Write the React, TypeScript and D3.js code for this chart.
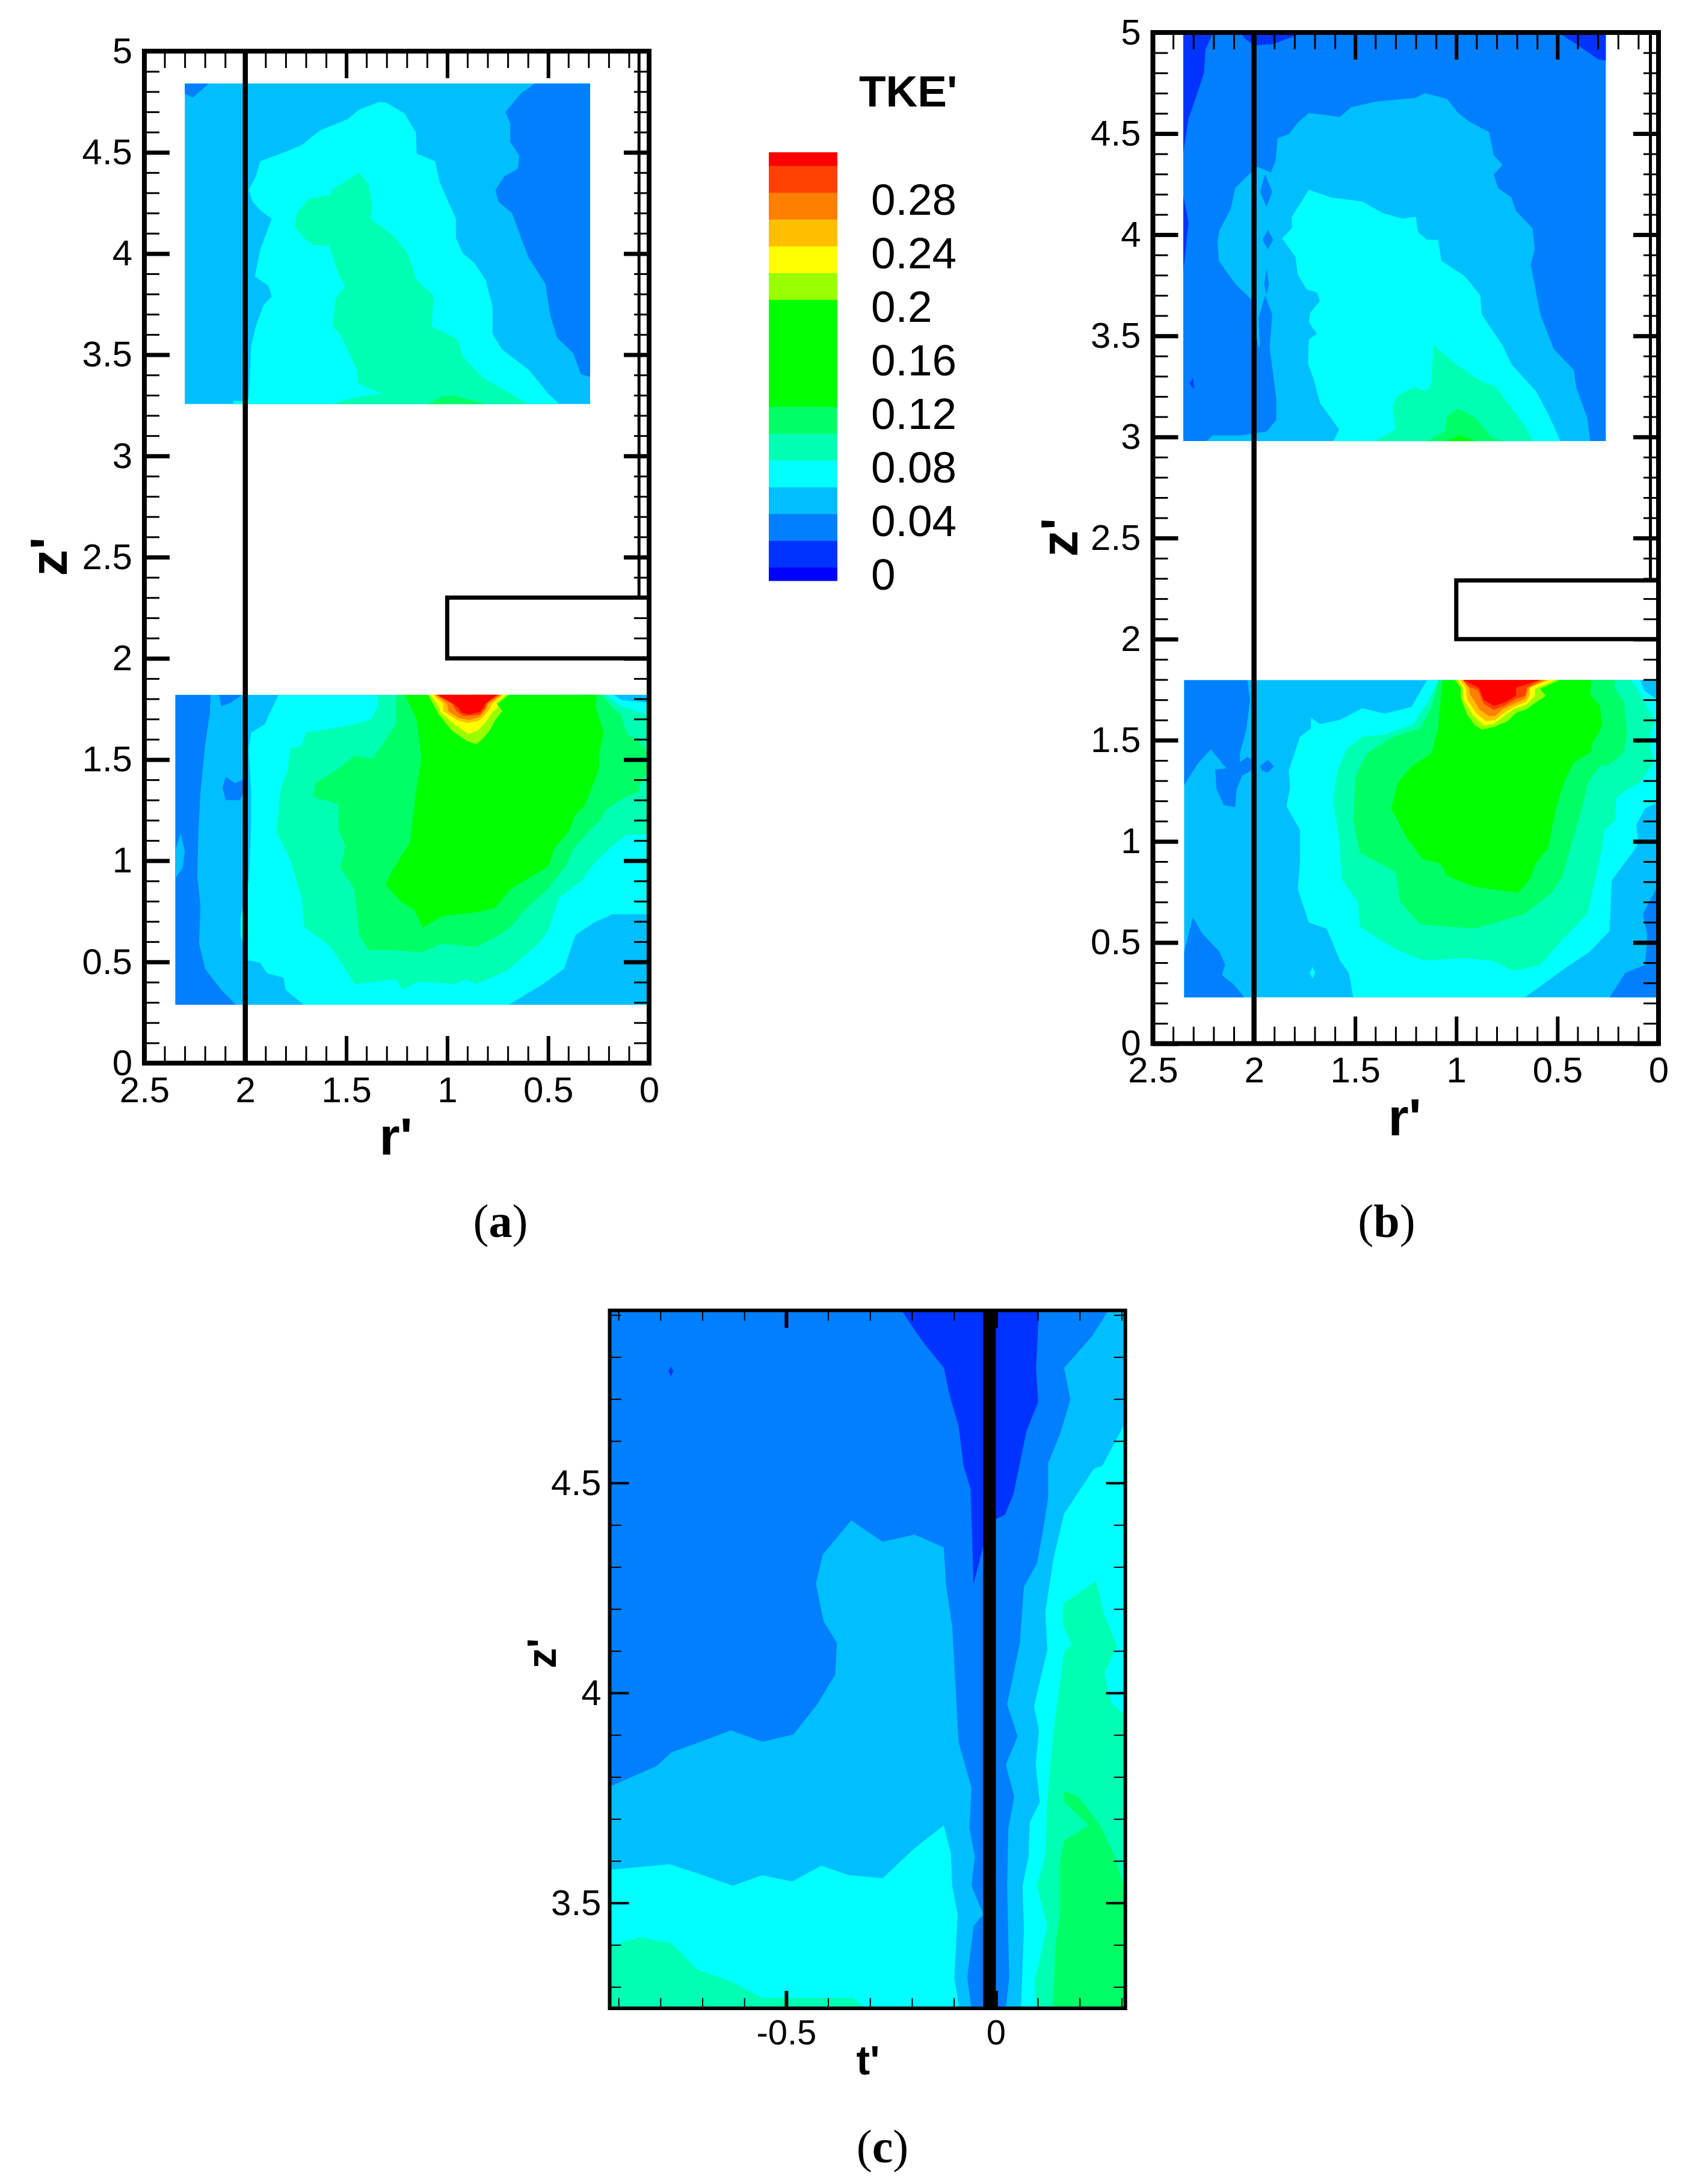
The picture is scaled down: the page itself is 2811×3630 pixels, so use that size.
import React, { useEffect, useRef } from 'react';
import * as d3 from 'd3';

type Pt = [number, number];
type Layer = [number, Pt[]];

// legend: contour band edges and their colours
const bandEdges = [-0.005, 0.005, 0.025, 0.045, 0.065, 0.085, 0.105, 0.125, 0.205, 0.225, 0.245, 0.265, 0.285, 0.305, 0.315];
const bandColors = ['#0000ff', '#0033ff', '#007fff', '#00bfff', '#00ffff', '#00ffb2', '#00ff66', '#00ff00', '#99ff00', '#ffff00', '#ffbf00', '#ff7f00', '#ff4000', '#ff0000'];
const legendTicks = [0, 0.04, 0.08, 0.12, 0.16, 0.2, 0.24, 0.28];

const rMajor = [0, 0.5, 1, 1.5, 2, 2.5];
const zMajor = [0, 0.5, 1, 1.5, 2, 2.5, 3, 3.5, 4, 4.5, 5];
const tMajor = [-0.5, 0];
const zMajorC = [3.5, 4, 4.5];

// (a) upper window, contour outlines as [r', z']
const aTopBlueR: Pt[] = [[.565,4.841],[.638,4.788],[.711,4.699],[.688,4.645],[.688,4.551],[.643,4.484],[.65,4.418],[.718,4.38],[.761,4.314],[.747,4.257],[.679,4.2],[.627,4.058],[.597,3.982],[.513,3.849],[.49,3.698],[.456,3.584],[.376,3.508],[.337,3.404],[.292,3.39],[.292,4.841]];
const aTopBlueL: Pt[] = [[2.3,4.84],[2.18,4.84],[2.26,4.77],[2.3,4.79]];
const aTopCyan: Pt[] = [[2.06,3.256],[2.06,3.272],[2.0,3.27],[1.983,3.285],[1.971,3.546],[1.948,3.641],[1.91,3.745],[1.869,3.789],[1.885,3.84],[1.953,3.887],[1.926,4.02],[1.869,4.172],[1.926,4.213],[1.964,4.257],[1.983,4.314],[1.948,4.38],[1.926,4.456],[1.8,4.503],[1.72,4.536],[1.63,4.608],[1.493,4.664],[1.436,4.712],[1.333,4.75],[1.3,4.744],[1.212,4.693],[1.155,4.598],[1.151,4.494],[1.06,4.456],[1.037,4.352],[.957,4.172],[.957,4.077],[.923,4.001],[.866,3.954],[.809,3.868],[.775,3.736],[.775,3.603],[.729,3.527],[.593,3.423],[.501,3.309],[.444,3.256]];
const aTopTeal: Pt[] = [[1.572,3.256],[1.458,3.29],[1.322,3.309],[1.44,3.356],[1.447,3.423],[1.481,3.499],[1.531,3.603],[1.568,3.641],[1.554,3.773],[1.504,3.84],[1.538,3.897],[1.584,4.039],[1.664,4.043],[1.709,4.077],[1.755,4.134],[1.743,4.2],[1.686,4.27],[1.577,4.289],[1.572,4.314],[1.436,4.399],[1.39,4.342],[1.372,4.247],[1.379,4.172],[1.265,4.086],[1.196,4.001],[1.151,3.868],[1.067,3.792],[1.076,3.641],[.946,3.574],[.923,3.489],[.82,3.385],[.597,3.256]];
const aTopLime: Pt[] = [[1.094,3.256],[1.025,3.296],[.969,3.3],[.866,3.271],[.793,3.256]];

// (a) lower window
const aLowBlue: Pt[] = [[2.347,1.819],[2.172,1.819],[2.176,1.727],[2.199,1.57],[2.222,1.341],[2.233,1.132],[2.238,.924],[2.222,.778],[2.229,.59],[2.199,.465],[2.119,.361],[2.046,.288],[2.347,.288]];
const aLowSpot: Pt[] = [[2.347,1.049],[2.32,1.137],[2.3,1.049],[2.31,.966],[2.347,.913]];
const aLowTopBlue: Pt[] = [[2.131,1.819],[2.119,1.764],[2.074,1.779],[2.017,1.819]];
const aLowBlob: Pt[] = [[2.097,1.414],[2.113,1.362],[2.097,1.299],[2.028,1.299],[1.994,1.362],[2.005,1.404],[2.051,1.383]];
const aLowCyan: Pt[] = [[1.835,1.819],[1.88,1.727],[1.903,1.675],[1.971,1.633],[1.983,1.55],[1.971,1.341],[1.971,1.174],[1.983,.903],[2.024,.715],[2.024,.632],[1.983,.507],[1.926,.496],[1.892,.444],[1.812,.423],[1.8,.361],[1.709,.288],[.695,.288],[.524,.392],[.422,.465],[.365,.632],[.273,.694],[.182,.736],[0,.736],[0,1.819]];
const aLowTopRight: Pt[] = [[.176,1.821],[.136,1.794],[0,1.78],[0,1.821]];
const aLowTeal: Pt[] = [[1.345,1.819],[1.34,1.769],[1.379,1.696],[1.504,1.664],[1.698,1.633],[1.721,1.57],[1.778,1.55],[1.789,1.445],[1.823,1.362],[1.846,1.143],[1.778,1.007],[1.721,.82],[1.709,.674],[1.584,.58],[1.538,.517],[1.459,.392],[1.253,.413],[1.219,.361],[1.151,.402],[.957,.392],[.912,.413],[.855,.392],[.706,.455],[.547,.59],[.501,.653],[.444,.82],[.33,.903],[.285,.972],[.196,1.061],[.116,1.126],[0,1.131],[0,1.72],[.146,1.765],[.21,1.821]];
const aLowMint: Pt[] = [[1.253,1.819],[1.253,1.675],[1.367,1.504],[1.459,1.518],[1.538,1.456],[1.652,1.383],[1.664,1.316],[1.538,1.278],[1.538,1.153],[1.504,1.07],[1.531,.966],[1.459,.861],[1.436,.632],[1.39,.559],[1.276,.559],[1.128,.548],[1.026,.59],[.855,.574],[.763,.621],[.684,.674],[.615,.757],[.501,.861],[.414,.972],[.374,1.061],[.295,1.15],[.235,1.21],[.216,1.25],[.136,1.304],[.047,1.344],[.047,1.378],[0,1.438],[0,1.537],[.057,1.596],[.111,1.626],[.136,1.715],[.196,1.775],[.235,1.821]];
const aLowGreen: Pt[] = [[1.208,1.819],[1.151,1.696],[1.128,1.508],[1.151,1.362],[1.185,1.091],[1.276,.945],[1.304,.882],[1.231,.799],[1.162,.757],[1.121,.669],[1.026,.726],[.843,.747],[.763,.767],[.684,.861],[.499,.972],[.469,1.061],[.394,1.15],[.369,1.22],[.315,1.279],[.285,1.358],[.25,1.448],[.245,1.537],[.225,1.636],[.265,1.765],[.26,1.821]];
const aPeak215: Pt[] = [[1.095,1.821],[1.065,1.765],[1.04,1.72],[.975,1.641],[.901,1.591],[.856,1.575],[.826,1.601],[.787,1.646],[.762,1.695],[.727,1.74],[.752,1.775],[.692,1.821]];
const aPeak235: Pt[] = [[1.085,1.821],[1.042,1.765],[1.03,1.73],[.96,1.671],[.896,1.626],[.851,1.641],[.811,1.68],[.777,1.735],[.747,1.755],[.757,1.78],[.707,1.821]];
const aPeak255: Pt[] = [[1.07,1.821],[1.02,1.775],[1.02,1.74],[.951,1.695],[.901,1.68],[.846,1.69],[.816,1.715],[.787,1.755],[.777,1.775],[.722,1.821]];
const aPeak275: Pt[] = [[1.06,1.821],[1.0,1.775],[.995,1.74],[.941,1.705],[.891,1.695],[.841,1.71],[.811,1.74],[.797,1.775],[.732,1.821]];
const aPeak295: Pt[] = [[1.055,1.821],[.975,1.775],[.955,1.74],[.92,1.715],[.841,1.72],[.811,1.755],[.802,1.78],[.742,1.821]];
const aPeakRed: Pt[] = [[1.05,1.821],[.975,1.78],[.945,1.755],[.926,1.73],[.891,1.723],[.836,1.735],[.807,1.78],[.752,1.821]];

// (b) upper window
const bTopDeepL: Pt[] = [[2.35,5],[2.203,5],[2.24,4.915],[2.247,4.801],[2.291,4.668],[2.324,4.573],[2.35,4.402]];
const bTopDeepM: Pt[] = [[2.35,4.194],[2.324,4.061],[2.35,3.814]];
const bTopDeepC: Pt[] = [[2.07,5],[2.037,4.962],[1.993,4.937],[1.905,4.943],[1.806,4.981],[1.795,5]];
const bTopDeepR: Pt[] = [[.496,5],[.407,4.943],[.297,4.867],[.26,4.861],[.26,5]];
const bTopSpeck: Pt[] = [[2.317,3.264],[2.302,3.292],[2.297,3.235]];
const bTopArch: Pt[] = [[2.236,2.979],[2.203,3.008],[2.059,3.008],[1.938,3.027],[1.89,3.083],[1.89,3.188],[1.923,3.444],[1.978,3.444],[1.993,3.529],[2.015,3.681],[2.093,3.757],[2.174,3.871],[2.181,3.966],[2.17,4.023],[2.115,4.127],[2.093,4.231],[2.037,4.288],[1.982,4.336],[1.916,4.307],[1.894,4.364],[1.883,4.478],[1.828,4.497],[1.784,4.554],[1.729,4.602],[1.575,4.583],[1.52,4.63],[1.399,4.658],[1.2,4.677],[1.156,4.7],[1.046,4.672],[.991,4.602],[.936,4.56],[.837,4.507],[.815,4.393],[.771,4.345],[.815,4.298],[.793,4.231],[.727,4.184],[.705,4.118],[.623,4.032],[.612,3.928],[.632,3.852],[.584,3.605],[.518,3.435],[.419,3.33],[.407,3.245],[.352,3.093],[.337,2.979]];
const bTopLens1: Pt[] = [[1.945,4.298],[1.91,4.213],[1.938,4.137],[1.971,4.213]];
const bTopLens2: Pt[] = [[1.932,4.023],[1.905,3.975],[1.932,3.928],[1.958,3.975]];
const bTopLens3: Pt[] = [[1.938,3.833],[1.927,3.757],[1.938,3.7],[1.949,3.757]];
const bTopLens4: Pt[] = [[1.945,3.7],[1.91,3.605],[1.923,3.444],[1.971,3.444],[1.978,3.586]];
const bTopCyan: Pt[] = [[1.608,2.979],[1.579,3.036],[1.674,3.169],[1.707,3.292],[1.733,3.359],[1.729,3.482],[1.689,3.51],[1.729,3.567],[1.722,3.615],[1.674,3.672],[1.689,3.715],[1.74,3.729],[1.784,3.805],[1.795,3.89],[1.861,3.981],[1.813,4.032],[1.813,4.089],[1.729,4.222],[1.619,4.184],[1.465,4.165],[1.366,4.108],[1.267,4.08],[1.2,4.089],[1.189,4.013],[1.145,3.975],[1.09,3.975],[1.073,3.871],[.958,3.795],[.881,3.7],[.874,3.605],[.771,3.453],[.727,3.359],[.606,3.226],[.54,3.102],[.485,2.979]];
const bTopTeal: Pt[] = [[1.403,2.979],[1.3,3.036],[1.315,3.15],[1.289,3.207],[1.205,3.245],[1.145,3.226],[1.123,3.264],[1.112,3.453],[1.002,3.359],[.892,3.283],[.804,3.245],[.694,3.102],[.617,2.979]];
const bTopMint: Pt[] = [[1.145,2.979],[1.057,3.027],[1.046,3.102],[.991,3.14],[.903,3.093],[.826,2.998],[.76,2.979]];
const bTopGreen: Pt[] = [[1.057,2.979],[.98,3.008],[.903,2.979]];

// (b) lower window
const bLowBlue: Pt[] = [[2.346,1.797],[2.033,1.797],[2.02,1.705],[2.037,1.559],[2.07,1.434],[2.07,1.392],[2.033,1.417],[2.011,1.403],[2.015,1.35],[2.059,1.325],[2.086,1.257],[2.093,1.169],[2.148,1.179],[2.185,1.257],[2.192,1.355],[2.137,1.361],[2.214,1.455],[2.28,1.382],[2.346,1.277]];
const bLowBlob: Pt[] = [[1.971,1.371],[1.932,1.403],[1.901,1.371],[1.932,1.34],[1.96,1.35]];
const bLowBlueSW: Pt[] = [[2.346,.453],[2.302,.624],[2.258,.547],[2.17,.453],[2.143,.39],[2.159,.338],[2.104,.296],[2.048,.228],[2.346,.228]];
const bLowBlueSE: Pt[] = [[0,.787],[.077,.641],[.055,.536],[.066,.39],[.165,.349],[.242,.228],[0,.228]];
const bLowCyan: Pt[] = [[1.145,1.797],[1.222,1.664],[1.355,1.632],[1.465,1.659],[1.575,1.601],[1.674,1.58],[1.718,1.611],[1.718,1.559],[1.773,1.517],[1.828,1.35],[1.822,1.267],[1.839,1.173],[1.773,1.058],[1.773,.891],[1.784,.766],[1.729,.599],[1.641,.568],[1.575,.411],[1.531,.349],[1.509,.228],[.661,.228],[.452,.379],[.341,.453],[.242,.557],[.231,.808],[.121,.954],[.099,.996],[.11,1.079],[.066,1.163],[0,1.194],[0,1.797]];
const bLowTopRight: Pt[] = [[.09,1.797],[.07,1.745],[.01,1.705],[0,1.7],[0,1.797]];
const bLowSpeck: Pt[] = [[1.711,.38],[1.698,.349],[1.711,.321],[1.725,.349]];
const bLowTeal: Pt[] = [[1.084,1.797],[1.145,1.684],[1.211,1.58],[1.355,1.528],[1.465,1.517],[1.542,1.455],[1.586,1.35],[1.608,1.204],[1.579,1.016],[1.564,.808],[1.487,.703],[1.476,.578],[1.311,.474],[1.167,.411],[.958,.422],[.826,.411],[.716,.359],[.584,.39],[.474,.516],[.352,.641],[.279,.965],[.269,1.055],[.214,1.104],[.209,1.213],[.16,1.253],[.09,1.293],[.021,1.392],[.041,1.462],[.041,1.541],[.016,1.595],[.09,1.729],[.135,1.799]];
const bLowMint: Pt[] = [[1.09,1.797],[1.123,1.664],[1.178,1.559],[1.311,1.517],[1.443,1.434],[1.498,1.319],[1.509,1.1],[1.476,.943],[1.3,.85],[1.278,.703],[1.178,.589],[.914,.568],[.837,.589],[.661,.641],[.529,.745],[.474,.829],[.437,.965],[.378,1.164],[.348,1.293],[.289,1.372],[.239,1.382],[.17,1.442],[.155,1.541],[.17,1.689],[.219,1.759],[.214,1.799]];
const bLowGreen: Pt[] = [[1.068,1.797],[1.09,1.559],[1.123,1.434],[1.222,1.371],[1.289,1.288],[1.322,1.163],[1.244,1.016],[1.167,.912],[1.079,.891],[1.046,.829],[.914,.776],[.694,.745],[.639,.808],[.606,.891],[.546,.965],[.507,1.164],[.467,1.293],[.417,1.392],[.333,1.442],[.328,1.481],[.279,1.57],[.289,1.67],[.338,1.729],[.333,1.799]];
const bPeak215: Pt[] = [[1.007,1.799],[.978,1.759],[.978,1.709],[.948,1.63],[.908,1.575],[.873,1.553],[.814,1.566],[.745,1.595],[.705,1.635],[.65,1.655],[.611,1.685],[.556,1.719],[.586,1.754],[.487,1.799]];
const bPeak235: Pt[] = [[.992,1.799],[.968,1.759],[.963,1.699],[.918,1.625],[.864,1.575],[.814,1.58],[.764,1.62],[.715,1.655],[.655,1.675],[.611,1.719],[.611,1.754],[.507,1.799]];
const bPeak255: Pt[] = [[.983,1.799],[.953,1.759],[.948,1.704],[.903,1.635],[.854,1.595],[.809,1.6],[.764,1.635],[.705,1.67],[.655,1.689],[.636,1.724],[.636,1.764],[.536,1.799]];
const bPeak275: Pt[] = [[.968,1.799],[.938,1.759],[.933,1.729],[.883,1.65],[.839,1.62],[.809,1.62],[.769,1.655],[.705,1.685],[.66,1.704],[.64,1.759],[.556,1.799]];
const bPeak295: Pt[] = [[.968,1.799],[.938,1.764],[.893,1.749],[.864,1.68],[.814,1.65],[.764,1.67],[.705,1.704],[.66,1.719],[.65,1.761],[.576,1.799]];
const bPeakRed: Pt[] = [[.968,1.799],[.888,1.759],[.864,1.699],[.814,1.67],[.764,1.685],[.705,1.719],[.705,1.759],[.586,1.799]];

// (c) window, [t', z']
const cDeep: Pt[] = [[-.225,4.911],[-.174,4.836],[-.124,4.774],[-.109,4.705],[-.089,4.637],[-.077,4.541],[-.06,4.486],[-.053,4.26],[-.03,4.349],[0,4.414],[.022,4.425],[.042,4.473],[.073,4.623],[.101,4.692],[.096,4.774],[.103,4.911]];
const cSpeck: Pt[] = [[-.781,4.767],[-.775,4.777],[-.769,4.767],[-.775,4.753]];
const cSkyL: Pt[] = [[-.921,3.777],[-.809,3.826],[-.773,3.859],[-.703,3.884],[-.632,3.911],[-.557,3.884],[-.483,3.901],[-.426,3.973],[-.383,4.044],[-.379,4.119],[-.411,4.171],[-.429,4.26],[-.413,4.329],[-.345,4.411],[-.27,4.36],[-.194,4.377],[-.124,4.347],[-.119,4.26],[-.104,4.158],[-.094,3.979],[-.089,3.884],[-.058,3.774],[-.063,3.678],[-.05,3.61],[-.058,3.541],[-.03,3.473],[-.053,3.445],[-.068,3.322],[-.058,3.249],[-.921,3.249]];
const cCyanL: Pt[] = [[-.921,3.579],[-.778,3.592],[-.713,3.571],[-.627,3.541],[-.557,3.566],[-.486,3.551],[-.416,3.589],[-.35,3.566],[-.27,3.559],[-.194,3.63],[-.124,3.685],[-.107,3.616],[-.104,3.541],[-.091,3.473],[-.099,3.322],[-.087,3.249],[-.921,3.249]];
const cTealL: Pt[] = [[-.921,3.397],[-.849,3.418],[-.773,3.404],[-.713,3.342],[-.627,3.311],[-.557,3.274],[-.486,3.274],[-.34,3.274],[-.31,3.249],[-.921,3.249]];
const cSkyR: Pt[] = [[.269,4.911],[.229,4.849],[.163,4.774],[.178,4.699],[.153,4.616],[.125,4.548],[.125,4.466],[.111,4.377],[.098,4.308],[.067,4.253],[.057,4.116],[.027,3.973],[.052,3.897],[.024,3.829],[.044,3.753],[.03,3.678],[.027,3.541],[.032,3.322],[.024,3.249],[.309,3.249],[.309,4.911]];
const cCyanR: Pt[] = [[.309,4.644],[.254,4.541],[.234,4.534],[.163,4.427],[.138,4.322],[.118,4.192],[.123,4.103],[.091,3.968],[.103,3.911],[.095,3.829],[.105,3.74],[.081,3.692],[.078,3.61],[.064,3.541],[.067,3.432],[.06,3.249],[.309,3.249]];
const cTealR: Pt[] = [[.161,4.212],[.239,4.267],[.259,4.185],[.289,4.112],[.259,4.048],[.274,3.979],[.309,3.945],[.309,3.249],[.096,3.249],[.093,3.315],[.123,3.445],[.098,3.541],[.118,3.61],[.123,3.747],[.138,3.911],[.163,4.096],[.181,4.116],[.161,4.158]];
const cMintR: Pt[] = [[.163,3.767],[.198,3.753],[.249,3.685],[.284,3.61],[.309,3.527],[.309,3.249],[.136,3.249],[.143,3.404],[.153,3.473],[.153,3.596],[.163,3.648],[.222,3.685],[.163,3.74]];

const aTopLayers: Layer[] = [[.035,aTopBlueR],[.035,aTopBlueL],[.075,aTopCyan],[.095,aTopTeal],[.115,aTopLime]];
const aLowLayers: Layer[] = [[.035,aLowBlue],[.055,aLowSpot],[.035,aLowTopBlue],[.035,aLowBlob],[.075,aLowCyan],[.055,aLowTopRight],[.095,aLowTeal],[.115,aLowMint],[.135,aLowGreen],[.215,aPeak215],[.235,aPeak235],[.255,aPeak255],[.275,aPeak275],[.295,aPeak295],[.31,aPeakRed]];
const bTopLayers: Layer[] = [[.015,bTopDeepL],[.015,bTopDeepM],[.015,bTopDeepC],[.015,bTopDeepR],[.015,bTopSpeck],[.055,bTopArch],[.035,bTopLens1],[.035,bTopLens2],[.035,bTopLens3],[.035,bTopLens4],[.075,bTopCyan],[.095,bTopTeal],[.115,bTopMint],[.135,bTopGreen]];
const bLowLayers: Layer[] = [[.035,bLowBlue],[.035,bLowBlob],[.035,bLowBlueSW],[.035,bLowBlueSE],[.075,bLowCyan],[.055,bLowTopRight],[.075,bLowSpeck],[.095,bLowTeal],[.115,bLowMint],[.135,bLowGreen],[.215,bPeak215],[.235,bPeak235],[.255,bPeak255],[.275,bPeak275],[.295,bPeak295],[.31,bPeakRed]];
const cLayers: Layer[] = [[.015,cDeep],[.015,cSpeck],[.055,cSkyL],[.075,cCyanL],[.095,cTealL],[.055,cSkyR],[.075,cCyanR],[.095,cTealR],[.115,cMintR]];

const sans = '"Liberation Sans", Arial, sans-serif';
const serif = '"Liberation Serif", serif';

const bandColor = d3.scaleThreshold<number, string>().domain(bandEdges.slice(1, -1)).range(bandColors);

const tenths = (a: number, b: number) => d3.range(Math.round(a * 10), Math.round(b * 10) + 1).map((d) => d / 10);

function drawField(g: any, id: string, x: any, y: any, xr: number[], yr: number[], base: number, layers: Layer[]) {
  const rx0 = x(xr[0]), rx1 = x(xr[1]), ry0 = y(yr[1]), ry1 = y(yr[0]);
  g.append('clipPath').attr('id', id).append('rect')
    .attr('x', Math.min(rx0, rx1)).attr('y', ry0)
    .attr('width', Math.abs(rx1 - rx0)).attr('height', ry1 - ry0);
  const f = g.append('g').attr('clip-path', `url(#${id})`);
  f.append('rect')
    .attr('x', Math.min(rx0, rx1)).attr('y', ry0)
    .attr('width', Math.abs(rx1 - rx0)).attr('height', ry1 - ry0)
    .attr('fill', bandColor(base));
  const line = d3.line<Pt>().x((d) => x(d[0])).y((d) => y(d[1]));
  layers.forEach(([v, pts]) => {
    f.append('path').attr('d', line(pts) + 'Z').attr('fill', bandColor(v));
  });
}

function drawTicks(g: any, axis: any, major: number[], minor: number[], cfg: any, labels: boolean) {
  const minorOnly = minor.filter((d) => !major.some((m) => Math.abs(m - d) < 1e-6));
  const mn = g.append('g').call(axis.tickValues(minorOnly).tickFormat(() => '').tickSize(-cfg.minor));
  mn.select('.domain').remove();
  mn.selectAll('line').attr('stroke', '#000').attr('stroke-width', cfg.minorWidth);
  const mj = g.append('g').call(axis.tickValues(major).tickFormat(labels ? (d: number) => String(d) : () => '').tickSize(-cfg.major).tickPadding(cfg.padding));
  mj.select('.domain').remove();
  mj.selectAll('line').attr('stroke', '#000').attr('stroke-width', cfg.majorWidth);
  mj.selectAll('text').attr('font-family', sans).attr('font-size', cfg.font).attr('fill', '#000');
}

function title(g: any, text: string, px: number, py: number, size: number, rotate = false) {
  const t = g.append('text').text(text)
    .attr('font-family', sans).attr('font-weight', 700).attr('font-size', size)
    .attr('text-anchor', 'middle').attr('fill', '#000');
  if (rotate) t.attr('transform', `translate(${px},${py}) rotate(-90)`);
  else t.attr('x', px).attr('y', py);
}

function caption(g: any, letter: string, px: number, py: number) {
  const t = g.append('text').attr('x', px).attr('y', py).attr('text-anchor', 'middle')
    .attr('font-family', serif).attr('font-size', 78).attr('fill', '#000');
  t.append('tspan').text('(');
  t.append('tspan').attr('font-weight', 700).text(letter);
  t.append('tspan').text(')');
}

function drawRadial(svg: any, p: any) {
  const g = svg.append('g');
  const x = d3.scaleLinear().domain([2.5, 0]).range([p.left, p.right]);
  const y = d3.scaleLinear().domain([0, 5]).range([p.bottom, p.top]);
  drawField(g, p.id + 'up', x, y, p.upR, p.upZ, p.upBase, p.upLayers);
  drawField(g, p.id + 'lo', x, y, p.loR, p.loZ, p.loBase, p.loLayers);

  const rMinor = tenths(0, 2.5);
  const zMinor = tenths(0, 5);
  const vCfg = { major: 42, minor: 25, majorWidth: 7, minorWidth: 3, padding: 20, font: 60 };
  const hCfg = { major: 45, minor: 28, majorWidth: 6, minorWidth: 3, padding: 22, font: 60 };
  drawTicks(g.append('g').attr('transform', `translate(${p.left},0)`), d3.axisLeft(y), zMajor, zMinor, vCfg, true);
  drawTicks(g.append('g').attr('transform', `translate(${p.right},0)`), d3.axisRight(y), zMajor, zMinor, vCfg, false);
  drawTicks(g.append('g').attr('transform', `translate(0,${p.bottom})`), d3.axisBottom(x), rMajor, rMinor, hCfg, true);
  drawTicks(g.append('g').attr('transform', `translate(0,${p.top})`), d3.axisTop(x), rMajor, rMinor, hCfg, false);

  // nozzle outline, cylinder wall and inner wall
  const seg = d3.line<Pt>().x((d) => x(d[0])).y((d) => y(d[1]));
  const stroke = (pts: Pt[], w: number) => g.append('path').attr('d', seg(pts)).attr('fill', 'none').attr('stroke', '#000').attr('stroke-width', w);
  stroke([[2, 0], [2, 5]], 8.5);
  stroke([[0, p.boxTop], [1, p.boxTop], [1, 2], [0, 2]], 7);
  stroke([[p.inner, p.boxTop], [p.inner, 5]], 5);

  g.append('rect').attr('x', p.left).attr('y', p.top).attr('width', p.right - p.left).attr('height', p.bottom - p.top)
    .attr('fill', 'none').attr('stroke', '#000').attr('stroke-width', 8);

  title(g, "r'", p.rX, p.rY, 88);
  title(g, "z'", p.zX, p.zY, 88, true);
  caption(g, p.letter, p.capX, p.capY);
}

function drawSlice(svg: any) {
  const g = svg.append('g');
  const x = d3.scaleLinear().domain([-0.921, 0.309]).range([1013.5, 1870.7]);
  const y = d3.scaleLinear().domain([3.249, 4.911]).range([3338, 2178]);
  drawField(g, 'cfield', x, y, [-0.921, 0.309], [3.249, 4.911], .035, cLayers);

  const tMinor = tenths(-0.9, 0.3);
  const zMinor = tenths(3.3, 4.9);
  const vCfg = { major: 32, minor: 19, majorWidth: 4, minorWidth: 2, padding: 14, font: 60 };
  const hCfg = { major: 29, minor: 17, majorWidth: 6, minorWidth: 2, padding: 19, font: 58 };
  drawTicks(g.append('g').attr('transform', `translate(1013.5,0)`), d3.axisLeft(y), zMajorC, zMinor, vCfg, true);
  drawTicks(g.append('g').attr('transform', `translate(1870.7,0)`), d3.axisRight(y), zMajorC, zMinor, vCfg, false);
  drawTicks(g.append('g').attr('transform', `translate(0,3338)`), d3.axisBottom(x), tMajor, tMinor, hCfg, true);
  drawTicks(g.append('g').attr('transform', `translate(0,2178)`), d3.axisTop(x), tMajor, tMinor, hCfg, false);

  // thick wall line
  g.append('rect').attr('x', x(-0.03)).attr('y', y(4.911)).attr('width', x(0) - x(-0.03)).attr('height', y(3.249) - y(4.911)).attr('fill', '#000');
  g.append('rect').attr('x', x(-0.921)).attr('y', y(4.911)).attr('width', x(0.309) - x(-0.921)).attr('height', y(3.249) - y(4.911))
    .attr('fill', 'none').attr('stroke', '#000').attr('stroke-width', 6);

  title(g, "t'", 1443, 3448, 68);
  title(g, "z'", 924, 2748, 68, true);
  caption(g, 'c', 1467, 3594);
}

function drawLegend(svg: any) {
  const g = svg.append('g');
  const y = d3.scaleLinear().domain([0, 0.28]).range([954, 331]);
  bandColors.forEach((c, i) => {
    g.append('rect').attr('x', 1278).attr('width', 114)
      .attr('y', y(bandEdges[i + 1])).attr('height', y(bandEdges[i]) - y(bandEdges[i + 1]) + 0.5)
      .attr('fill', c);
  });
  legendTicks.forEach((v) => {
    g.append('text').text(String(v)).attr('x', 1448).attr('y', y(v)).attr('dy', '0.35em')
      .attr('font-family', sans).attr('font-size', 73).attr('fill', '#000');
  });
  g.append('text').text("TKE'").attr('x', 1428).attr('y', 177)
    .attr('font-family', sans).attr('font-weight', 700).attr('font-size', 73).attr('fill', '#000');
}

const App: React.FC = () => {
  const ref = useRef<SVGSVGElement>(null);

  useEffect(() => {
    if (!ref.current) return;
    const svg = d3.select(ref.current);
    svg.selectAll('*').remove();

    drawRadial(svg, {
      id: 'a', left: 240, right: 1079, top: 85, bottom: 1767, boxTop: 2.3, inner: 0.05,
      upR: [2.3, 0.292], upZ: [3.256, 4.841], upBase: .055, upLayers: aTopLayers,
      loR: [2.347, 0], loZ: [0.288, 1.82], loBase: .055, loLayers: aLowLayers,
      rX: 658, rY: 1919, zX: 111, zY: 925, letter: 'a', capX: 832, capY: 2056,
    });
    drawRadial(svg, {
      id: 'b', left: 1916.5, right: 2757, top: 54, bottom: 1734.5, boxTop: 2.29, inner: 0.04,
      upR: [2.35, 0.26], upZ: [2.979, 5], upBase: .035, upLayers: bTopLayers,
      loR: [2.346, 0], loZ: [0.228, 1.798], loBase: .055, loLayers: bLowLayers,
      rX: 2335, rY: 1887, zX: 1791, zY: 893, letter: 'b', capX: 2305, capY: 2056,
    });
    drawSlice(svg);
    drawLegend(svg);
  }, []);

  return <svg ref={ref} width={2811} height={3630} style={{ position: 'absolute', left: 0, top: 0, background: '#fff' }} />;
};

export default App;
